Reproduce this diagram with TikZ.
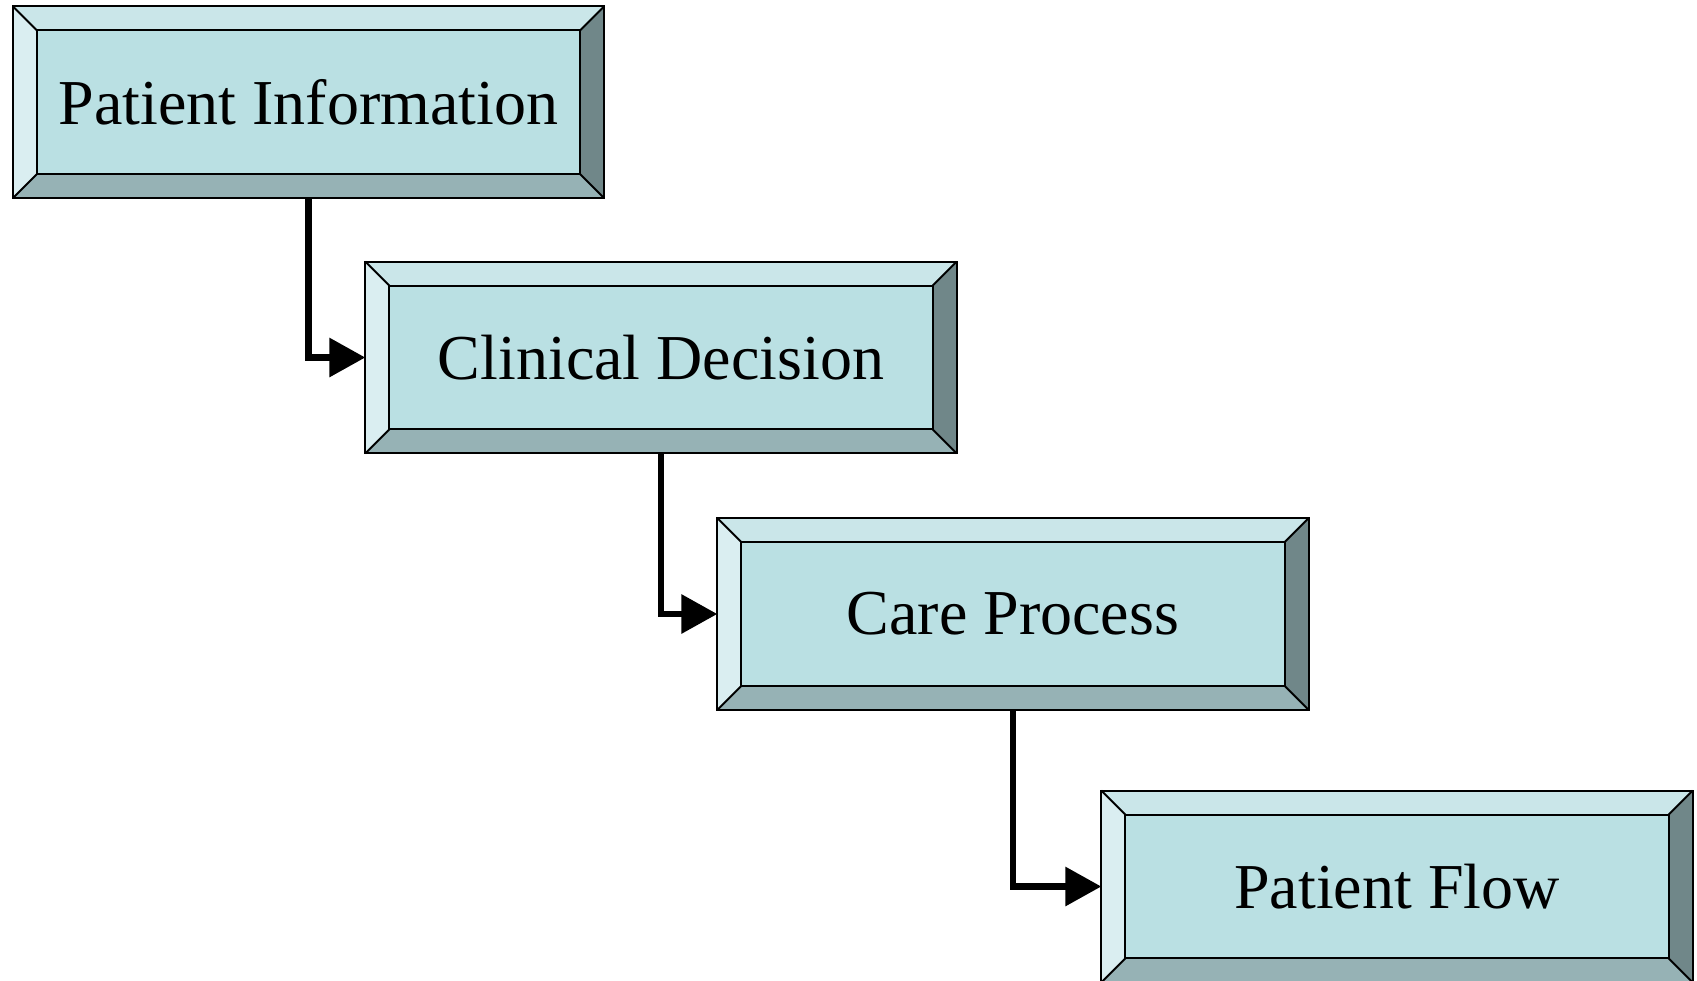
\documentclass[tikz,border=0pt]{standalone}
\usepackage{fontspec}
\setmainfont{Liberation Serif}
\usetikzlibrary{arrows.meta}

\definecolor{faceC}{RGB}{186,224,227}
\definecolor{topC}{RGB}{202,230,233}
\definecolor{leftC}{RGB}{218,238,241}
\definecolor{rightC}{RGB}{112,135,137}
\definecolor{bottomC}{RGB}{150,178,181}

\tikzset{
  bevelbox/.style={rectangle, minimum width=591pt, minimum height=191.5pt,
    fill=faceC, draw=none, inner sep=0pt,
    font=\fontsize{64}{70}\selectfont},
  edgeline/.style={draw=black, line width=2pt, line join=miter},
  conn/.style={line width=6.5pt, -{Triangle[length=36pt,width=38pt]}}
}

% bevelled frame around a named bevelbox node
\newcommand{\bevelframe}[1]{%
  \coordinate (#1-nw) at (#1.north west);
  \coordinate (#1-ne) at (#1.north east);
  \coordinate (#1-sw) at (#1.south west);
  \coordinate (#1-se) at (#1.south east);
  \coordinate (#1-inw) at ([xshift=24pt,yshift=-24pt]#1.north west);
  \coordinate (#1-ine) at ([xshift=-24pt,yshift=-24pt]#1.north east);
  \coordinate (#1-isw) at ([xshift=24pt,yshift=24pt]#1.south west);
  \coordinate (#1-ise) at ([xshift=-24pt,yshift=24pt]#1.south east);
  \fill[topC] (#1-nw) -- (#1-ne) -- (#1-ine) -- (#1-inw) -- cycle;
  \fill[leftC] (#1-nw) -- (#1-inw) -- (#1-isw) -- (#1-sw) -- cycle;
  \fill[rightC] (#1-ne) -- (#1-se) -- (#1-ise) -- (#1-ine) -- cycle;
  \fill[bottomC] (#1-sw) -- (#1-isw) -- (#1-ise) -- (#1-se) -- cycle;
  \path[edgeline] (#1-nw) rectangle (#1-se);
  \path[edgeline] (#1-inw) rectangle (#1-ise);
  \path[edgeline] (#1-nw) -- (#1-inw) (#1-ne) -- (#1-ine)
                  (#1-sw) -- (#1-isw) (#1-se) -- (#1-ise);
}

\begin{document}
\begin{tikzpicture}[x=1pt,y=-1pt]
\useasboundingbox (0,0) rectangle (1697,980);

\node[bevelbox] (info) at (308.5,102.3) {};
\node[bevelbox] (decision) at (661,357.5) {};
\node[bevelbox] (care) at (1013,614) {};
\node[bevelbox] (flow) at (1397,886.5) {};

\bevelframe{info}
\bevelframe{decision}
\bevelframe{care}
\bevelframe{flow}

\node[font=\fontsize{64}{70}\selectfont] (infoT) at (info) {Patient Information};
\node[font=\fontsize{64}{70}\selectfont] (decisionT) at (decision) {Clinical Decision};
\node[font=\fontsize{64}{70}\selectfont] (careT) at (care) {Care Process};
\node[font=\fontsize{64}{70}\selectfont] (flowT) at (flow) {Patient Flow};

\draw[conn] (info.south) |- (decision.west);
\draw[conn] (decision.south) |- (care.west);
\draw[conn] (care.south) |- (flow.west);
\end{tikzpicture}
\end{document}
